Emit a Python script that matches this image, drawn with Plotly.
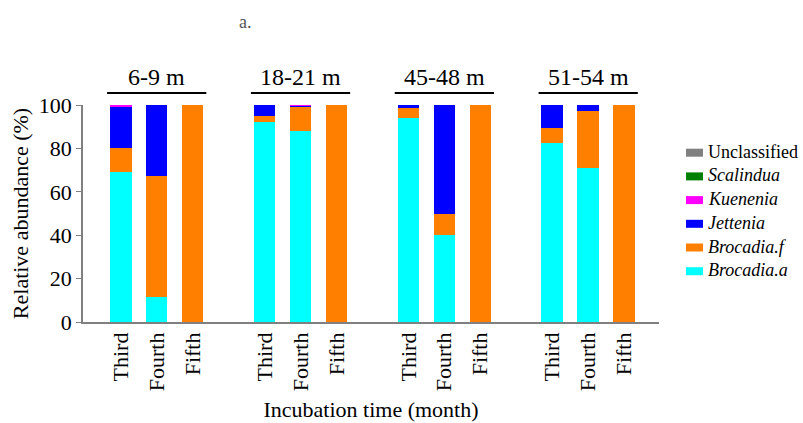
import plotly.graph_objects as go

depths = ["6-9 m", "18-21 m", "45-48 m", "51-54 m"]
months = ["Third", "Fourth", "Fifth"]

# values per bar (group order: depth, then month)
brocadia_a = [69.3, 11.4, 0, 92.3, 88.2, 0, 94.2, 40.1, 0, 82.3, 70.8, 0]
brocadia_f = [10.7, 56.0, 100, 2.8, 11.0, 100, 4.6, 9.5, 100, 7.1, 26.6, 100]
jettenia = [19.5, 32.6, 0, 4.9, 0.6, 0, 1.2, 50.4, 0, 10.6, 2.6, 0]
kuenenia = [0.5, 0, 0, 0, 0.2, 0, 0, 0, 0, 0, 0, 0]
scalindua = [0, 0, 0, 0, 0, 0, 0, 0, 0, 0, 0, 0]
unclassified = [0, 0, 0, 0, 0, 0, 0, 0, 0, 0, 0, 0]

series_names = ["<i>Brocadia.a</i>", "<i>Brocadia.f</i>", "<i>Jettenia</i>",
                "<i>Kuenenia</i>", "<i>Scalindua</i>", "Unclassified"]
series_vals = [brocadia_a, brocadia_f, jettenia, kuenenia, scalindua, unclassified]
series_colors = ["#00FFFF", "#FF8000", "#0000FF", "#FF00FF", "#008000", "#808080"]

# x positions: 3 bars per group, one empty slot between groups
xpos = []
xlabels = []
for gi, d in enumerate(depths):
    for mi, m in enumerate(months):
        xpos.append(gi * 4 + mi)
        xlabels.append(m)

FONT = "Liberation Serif"

fig = go.Figure()
for name, vals, col in zip(series_names, series_vals, series_colors):
    fig.add_trace(go.Bar(x=xpos, y=vals, name=name, marker_color=col,
                         marker_line_width=0, width=0.6, showlegend=False))

# custom legend (top entry = last series)
PLOT_H = 217.0
PLOT_W = 576.0
def px_to_paper_y(py):
    return (322 - py) / PLOT_H
def px_to_paper_x(px):
    return (px - 83) / PLOT_W

for k, (name, col) in enumerate(zip(reversed(series_names), reversed(series_colors))):
    cy = 151.7 + k * 23.7
    fig.add_shape(type="rect", xref="paper", yref="paper",
                  x0=px_to_paper_x(686), x1=px_to_paper_x(703),
                  y0=px_to_paper_y(cy + 5), y1=px_to_paper_y(cy - 3),
                  fillcolor=col, line_width=0)
    fig.add_annotation(x=px_to_paper_x(706), y=px_to_paper_y(cy), xref="paper",
                       yref="paper", text=name, showarrow=False, xanchor="left",
                       yanchor="middle",
                       font=dict(family=FONT, size=18, color="black"))

# group header lines and labels
for gi, d in enumerate(depths):
    x0 = gi * 4 - 0.38
    x1 = gi * 4 + 2 + 0.38
    fig.add_shape(type="line", xref="x", yref="paper", x0=x0, x1=x1,
                  y0=1.055, y1=1.055, line=dict(color="black", width=2))
    fig.add_annotation(x=gi * 4 + 1, y=1.06, xref="x", yref="paper",
                       text=d, showarrow=False, yanchor="bottom",
                       font=dict(family=FONT, size=24, color="black"))

fig.add_annotation(x=0.267, y=1.382, xref="paper", yref="paper", text="a.",
                   showarrow=False, yanchor="middle",
                   font=dict(family=FONT, size=18, color="#555555"))

fig.update_layout(
    barmode="stack",
    width=803, height=423,
    margin=dict(l=83, r=144, t=105, b=101),
    plot_bgcolor="white", paper_bgcolor="white",
    font=dict(family=FONT, color="black"),
    showlegend=False,
    xaxis=dict(range=[-1.05, 14.97], tickmode="array", tickvals=xpos, ticktext=xlabels,
               tickangle=-90, showline=True, linecolor="#808080", linewidth=1.5,
               ticks="", showgrid=False, zeroline=False, automargin=False,
               tickfont=dict(family=FONT, size=22, color="black"),
               title=dict(text="Incubation time (month)",
                          font=dict(family=FONT, size=22, color="black"), standoff=11)),
    yaxis=dict(range=[0, 100], tickvals=[0, 20, 40, 60, 80, 100], showline=True,
               linecolor="#808080", linewidth=1.5, ticks="outside", ticklen=5,
               tickcolor="#808080", showgrid=False, zeroline=False, automargin=False,
               tickfont=dict(family=FONT, size=22, color="black"),
               title=dict(text="Relative abundance (%)",
                          font=dict(family=FONT, size=22, color="black"), standoff=4)),
)

fig.write_html("out.html")
